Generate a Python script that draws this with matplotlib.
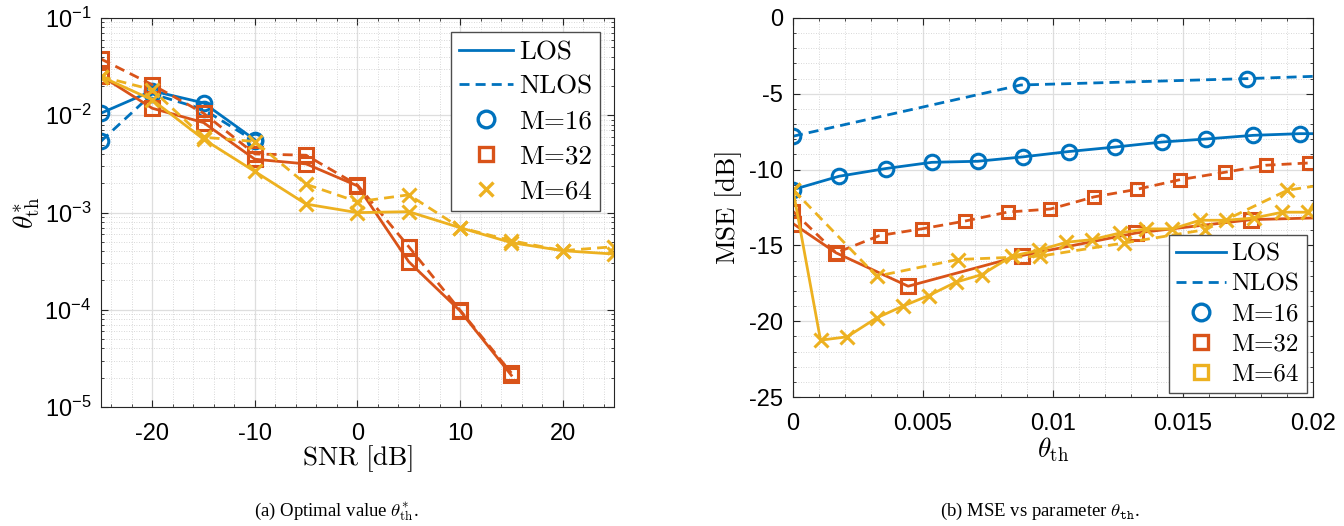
import numpy as np
import matplotlib
matplotlib.use("Agg")
import matplotlib.pyplot as plt
from matplotlib.lines import Line2D
from matplotlib.ticker import MultipleLocator, LogLocator, FixedLocator, FuncFormatter, NullFormatter

plt.rcParams['mathtext.fontset'] = 'cm'
plt.rcParams['axes.unicode_minus'] = False

# ---- (a) optimal threshold vs SNR ----
snr = [-25, -20, -15, -10, -5, 0, 5, 10, 15, 20, 25]
snr_m16 = [-25, -20, -15, -10]
th_m16_los = [0.0105, 0.0178, 0.0134, 0.0056]
th_m16_nlos = [0.0054, 0.0166, 0.0115, 0.0054]
snr_m32 = [-25, -20, -15, -10, -5, 0, 5, 10, 15]
th_m32_los = [0.0255, 0.0118, 0.0084, 0.00353, 0.00316, 0.00188, 0.000312, 9.75e-5, 2.12e-5]
th_m32_nlos = [0.0379, 0.0206, 0.0105, 0.0040, 0.00388, 0.00192, 0.000445, 9.9e-5, 2.24e-5]
th_m64_los = [0.025, 0.0144, 0.00567, 0.00264, 0.00122, 0.000997, 0.00102, 0.000698, 0.00049, 0.000405, 0.000374]
th_m64_nlos = [0.025, 0.0183, 0.00594, 0.00537, 0.00195, 0.00129, 0.00152, 0.0007, 0.000513, 0.000405, 0.000445]

# ---- (b) MSE vs threshold ----
th_b16_los = [0, 0.00177, 0.00357, 0.00534, 0.00711, 0.00885, 0.0106, 0.0124, 0.0142, 0.0159, 0.0177, 0.0195, 0.02]
mse_b16_los = [-11.32, -10.44, -9.93, -9.52, -9.45, -9.16, -8.81, -8.51, -8.18, -7.98, -7.74, -7.63, -7.63]
th_b16_nlos = [0, 0.00876, 0.01745, 0.02]
mse_b16_nlos = [-7.80, -4.42, -4.0, -3.85]
th_b32_los = [0, 0.00166, 0.00443, 0.0088, 0.0132, 0.01763, 0.02]
mse_b32_los = [-13.56, -15.49, -17.69, -15.67, -14.18, -13.30, -13.19]
th_b32_nlos = [0, 0.00166, 0.00333, 0.00498, 0.00660, 0.00826, 0.00990, 0.01158, 0.01323, 0.01490, 0.01660, 0.01820, 0.01986, 0.02]
mse_b32_nlos = [-12.75, -15.49, -14.35, -13.90, -13.40, -12.80, -12.60, -11.80, -11.30, -10.66, -10.18, -9.71, -9.56, -9.56]
th_b64_los = [0, 0.00106, 0.00208, 0.00322, 0.00422, 0.00522, 0.00626, 0.00727, 0.00842, 0.00945, 0.01052,
              0.01150, 0.01258, 0.01358, 0.01459, 0.01566, 0.01666, 0.01774, 0.01882, 0.01982, 0.02]
mse_b64_los = [-11.32, -21.25, -21.03, -19.78, -19.01, -18.31, -17.43, -16.92, -15.71, -15.32, -14.79,
               -14.62, -14.18, -13.91, -13.91, -13.34, -13.34, -13.19, -12.81, -12.81, -12.3]
th_b64_nlos = [0, 0.00322, 0.00634, 0.00950, 0.01274, 0.01586, 0.01902, 0.02]
mse_b64_nlos = [-11.32, -17.03, -15.93, -15.71, -14.84, -13.96, -11.36, -11.10]

blue = '#0072BD'
orange = '#D95319'
yellow = '#EDB120'
dash = (0, (3.6, 2.2))
lw = 2.0

fig = plt.figure(figsize=(13.44, 5.26), dpi=100)
ax1 = fig.add_axes([0.0751, 0.2262, 0.3817, 0.7396])
ax2 = fig.add_axes([0.5900, 0.2452, 0.3869, 0.7206])

def style(ax):
    ax.tick_params(which='both', direction='in', top=True, right=True, colors='0.15',
                   labelsize=17, labelcolor='black')
    ax.tick_params(which='major', length=5, width=0.8)
    ax.tick_params(which='minor', length=2.5, width=0.6)
    ax.tick_params(axis='x', which='major', pad=11.5)
    ax.tick_params(axis='y', which='major', pad=7)
    for s in ax.spines.values():
        s.set_color('0.15')
        s.set_linewidth(0.8)
    ax.grid(True, which='major', color='0.87', lw=0.9)
    ax.grid(True, which='minor', color='0.8', lw=0.6, ls=(0, (1, 2)))
    ax.set_axisbelow(True)
    for t in ax.get_xticklabels() + ax.get_yticklabels():
        t.set_fontfamily('Liberation Sans')

# (a)
ax1.plot(snr_m16, th_m16_los, color=blue, lw=lw, marker='o', ms=10.5, mew=2.2, mfc='none')
ax1.plot(snr_m16, th_m16_nlos, color=blue, lw=lw, ls=dash, marker='o', ms=10.5, mew=2.2, mfc='none')
ax1.plot(snr_m32, th_m32_los, color=orange, lw=lw, marker='s', ms=9.5, mew=2.2, mfc='none')
ax1.plot(snr_m32, th_m32_nlos, color=orange, lw=lw, ls=dash, marker='s', ms=9.5, mew=2.2, mfc='none')
ax1.plot(snr, th_m64_los, color=yellow, lw=lw, marker='x', ms=9.5, mew=2.2)
ax1.plot(snr, th_m64_nlos, color=yellow, lw=lw, ls=dash, marker='x', ms=9.5, mew=2.2)
ax1.set_yscale('log')
ax1.set_xlim(-25, 25)
ax1.set_ylim(1e-5, 1e-1)
ax1.xaxis.set_major_locator(FixedLocator([-20, -10, 0, 10, 20]))
ax1.xaxis.set_minor_locator(MultipleLocator(2))
ax1.yaxis.set_major_locator(LogLocator(base=10, numticks=10))
ax1.yaxis.set_minor_locator(LogLocator(base=10, subs=np.arange(2, 10), numticks=20))
ax1.yaxis.set_minor_formatter(NullFormatter())
ax1.yaxis.set_major_formatter(FuncFormatter(lambda v, p: r'$\mathregular{10^{%d}}$' % round(np.log10(v))))
ax1.xaxis.set_major_formatter(FuncFormatter(lambda v, p: '%d' % v))
style(ax1)
ax1.set_xlabel(r'$\mathrm{SNR\ [dB]}$', fontsize=19.5, labelpad=-1)
ax1.set_ylabel(r'$\theta^{*}_{\mathrm{th}}$', fontsize=19.5, labelpad=2)

# (b)
ax2.plot(th_b16_los, mse_b16_los, color=blue, lw=lw, marker='o', ms=10.5, mew=2.2, mfc='none', markevery=slice(0, -1))
ax2.plot(th_b16_nlos, mse_b16_nlos, color=blue, lw=lw, ls=dash, marker='o', ms=10.5, mew=2.2, mfc='none', markevery=slice(0, -1))
ax2.plot(th_b32_los, mse_b32_los, color=orange, lw=lw, marker='s', ms=9.5, mew=2.2, mfc='none', markevery=slice(0, -1))
ax2.plot(th_b32_nlos, mse_b32_nlos, color=orange, lw=lw, ls=dash, marker='s', ms=8.5, mew=2.2, mfc='none', markevery=slice(0, -1))
ax2.plot(th_b64_los, mse_b64_los, color=yellow, lw=lw, marker='x', ms=9.5, mew=2.2, markevery=slice(0, -1))
ax2.plot(th_b64_nlos, mse_b64_nlos, color=yellow, lw=lw, ls=dash, marker='x', ms=9.5, mew=2.2, markevery=slice(0, -1))
ax2.set_xlim(0, 0.02)
ax2.set_ylim(-25, 0)
ax2.xaxis.set_major_locator(MultipleLocator(0.005))
ax2.xaxis.set_minor_locator(MultipleLocator(0.001))
ax2.yaxis.set_major_locator(MultipleLocator(5))
ax2.yaxis.set_minor_locator(MultipleLocator(1))
ax2.xaxis.set_major_formatter(FuncFormatter(lambda v, p: ('%g' % round(v, 4))))
ax2.yaxis.set_major_formatter(FuncFormatter(lambda v, p: '%d' % v))
style(ax2)
ax2.set_xlabel(r'$\theta_{\mathrm{th}}$', fontsize=19.5, labelpad=0)
ax2.set_ylabel(r'$\mathrm{MSE\ [dB]}$', fontsize=19.5, labelpad=4)

def legend(ax, last_marker, loc, anchor, size, spacing):
    handles = [
        Line2D([], [], color=blue, lw=lw),
        Line2D([], [], color=blue, lw=lw, ls=dash),
        Line2D([], [], color=blue, ls='none', marker='o', ms=12, mew=2.4, mfc='none'),
        Line2D([], [], color=orange, ls='none', marker='s', ms=10, mew=2.4, mfc='none'),
        Line2D([], [], color=yellow, ls='none', marker=last_marker, ms=10, mew=2.4, mfc='none'),
    ]
    labels = ['LOS', 'NLOS', 'M=16', 'M=32', 'M=64']
    leg = ax.legend(handles, labels, loc=loc, bbox_to_anchor=anchor, borderaxespad=0,
                    prop={'family': 'cmr10', 'size': size}, fancybox=False, framealpha=1, edgecolor='0.3',
                    handlelength=2.0, handletextpad=0.2, labelspacing=spacing, borderpad=0.3)
    leg.get_frame().set_linewidth(1.0)

legend(ax1, 'x', 'upper right', (0.973, 0.964), 19.5, 0.4)
legend(ax2, 's', 'lower right', (0.988, 0.011), 18, 0.3)

fig.text(0.25, 0.028, r'(a) Optimal value $\theta^{*}_{\mathrm{th}}$.', ha='center', va='center',
         fontsize=13.5, family='Liberation Serif')
fig.text(0.774, 0.028, r'(b) MSE vs parameter $\theta_{\mathtt{th}}$.', ha='center', va='center',
         fontsize=13.5, family='Liberation Serif')

fig.savefig('out.png', dpi=100)
